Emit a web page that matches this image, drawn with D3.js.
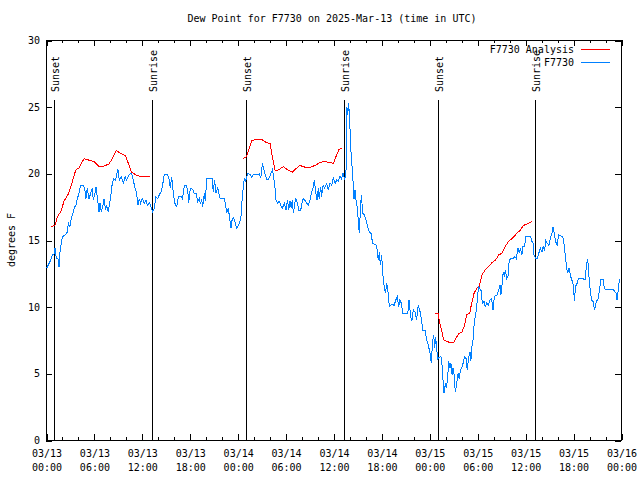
<!DOCTYPE html>
<html><head><meta charset="utf-8">
<script src="https://cdn.jsdelivr.net/npm/d3@7"></script>
<style>body{margin:0;background:#fff}svg text{font-family:"DejaVu Sans Mono",monospace;font-size:10px;fill:#000}</style>
</head><body><svg id="c" width="640" height="480"></svg>
<script>
const chartTitle = "Dew Point for F7730 on 2025-Mar-13 (time in UTC)";
const yAxisLabel = "degrees F";
const startUTC = Date.UTC(2025, 2, 13, 0, 0);
const xTickHours = [0, 6, 12, 18, 24, 30, 36, 42, 48, 54, 60, 66, 72];
const yTickValues = [0, 5, 10, 15, 20, 25, 30];
const seriesNames = ["F7730 Analysis", "F7730"];
const seriesColors = ["#ff0000", "#0080ff"];
const sunLabels = ["Sunset", "Sunrise", "Sunset", "Sunrise", "Sunset", "Sunrise"];
const sunHours = [1.0, 13.27, 25.04, 37.35, 49.1, 61.2];

// Analysis (red) - null separates segments
const analysisHours = [0.67,1.13,1.42,1.84,2.25,2.75,3.17,3.72,4.13,4.76,5.59,6.01,6.64,7.26,7.89,8.3,8.8,9.35,9.97,10.4,10.7,11.2,11.6,13.0,
 13.5,
 24.7,25.1,25.75,26.4,27.0,27.6,28.05,28.3,28.7,29.1,29.7,30.3,30.85,31.4,31.8,32.2,32.85,33.7,34.3,34.9,35.5,36.0,36.4,36.7,37.0,
 37.5,
 48.75,49.1,49.25,49.6,49.8,50.2,50.6,51.05,51.3,51.7,52.1,52.4,52.7,53.05,53.3,53.6,53.97,54.25,54.6,55.0,55.4,55.85,56.3,56.7,57.1,57.5,57.9,58.35,58.8,59.4,59.8,60.45,60.85];
const analysisValues = [16.0,16.1,16.75,17.1,17.9,18.4,19.1,20.25,20.4,21.1,20.95,20.9,20.5,20.55,20.7,21.1,21.7,21.5,21.3,20.6,20.1,19.9,19.8,19.8,
 null,
 21.1,21.25,22.45,22.55,22.55,22.3,22.25,21.4,20.2,20.25,20.5,20.25,20.1,20.4,20.6,20.5,20.4,20.6,20.8,20.9,20.8,20.75,21.4,21.8,21.9,
 null,
 9.5,9.5,8.9,8.1,7.5,7.4,7.3,7.3,7.6,8.0,8.1,8.6,9.4,9.5,10.25,11.0,11.4,11.5,12.4,12.75,13.0,13.3,13.5,13.9,14.0,14.5,14.9,15.1,15.4,15.75,16.1,16.25,16.4];

// Observations (blue)
const dewHours = [0.1,0.6,0.8,1.0,1.13,1.3,1.5,1.63,1.75,1.92,2.05,2.46,2.67,2.8,3.0,3.17,3.42,3.59,3.76,3.92,4.13,4.34,4.67,4.84,5.0,5.17,5.38,5.6,5.8,5.92,6.1,6.26,6.42,6.64,6.76,6.93,7.1,7.26,7.47,7.6,7.8,8.1,8.3,8.5,8.72,9.0,9.18,9.43,9.68,9.9,10.1,10.4,10.7,10.93,11.1,11.35,11.5,11.7,11.85,12.06,12.3,12.52,12.7,12.94,13.15,13.36,13.56,13.77,13.98,14.2,14.4,14.6,14.8,15.24,15.44,15.57,15.74,15.94,16.15,16.36,16.57,16.9,17.1,17.32,17.53,17.74,17.87,18.07,18.37,18.57,18.78,19.0,19.2,19.32,19.5,19.62,19.82,19.95,20.12,20.45,20.8,20.95,21.1,21.3,21.5,21.8,22.33,22.45,22.63,22.83,23.04,23.17,23.3,23.5,23.7,23.88,24.1,24.4,24.6,24.83,25.0,25.1,25.3,25.55,25.75,25.96,26.4,26.7,26.9,27.1,27.3,27.5,27.7,27.9,28.1,28.35,28.5,28.7,28.8,29.0,29.2,29.4,29.6,29.85,30.05,30.25,30.4,30.55,30.7,30.85,30.97,31.15,31.3,31.5,31.65,31.9,32.05,32.2,32.4,32.65,32.85,33.05,33.27,33.47,33.6,33.77,33.93,34.1,34.2,34.4,34.5,34.7,34.9,35.15,35.35,35.56,35.77,35.98,36.2,36.4,36.6,36.8,37.0,37.2,37.4,37.57,37.68,37.78,37.9,38.02,38.15,38.35,38.5,38.57,38.7,38.8,38.98,39.1,39.23,39.4,39.5,39.65,39.86,40.07,40.28,40.5,40.7,40.9,41.4,41.6,41.75,41.86,42.03,42.16,42.3,42.5,42.66,42.8,43.0,43.3,43.6,43.8,43.99,44.16,44.3,44.5,44.67,45.3,45.45,45.67,45.8,46.0,46.2,46.4,46.6,46.8,47.0,47.17,47.46,47.67,47.87,48.1,48.25,48.4,48.55,48.67,48.8,48.9,49.05,49.2,49.46,49.6,49.7,49.84,50.0,50.1,50.3,50.4,50.6,50.7,50.85,50.97,51.1,51.25,51.4,51.6,51.75,51.9,52.1,52.3,52.4,52.6,52.75,52.9,53.1,53.2,53.3,53.5,53.6,53.7,53.9,54.05,54.2,54.4,54.5,54.6,54.7,54.85,55.0,55.2,55.4,55.6,55.8,55.97,56.15,56.5,56.7,56.85,56.97,57.1,57.25,57.4,57.5,57.7,57.9,58.0,58.2,58.5,58.7,58.9,59.1,59.3,59.4,59.6,59.7,59.9,60.1,60.45,60.7,60.85,61.0,61.1,61.3,61.5,61.7,61.9,62.1,62.25,62.45,62.56,62.77,62.98,63.2,63.4,63.5,63.65,63.8,64.0,64.2,64.5,64.7,64.86,65.0,65.2,65.3,65.5,65.7,65.85,66.05,66.16,66.3,66.5,66.66,67.1,67.5,67.7,67.83,67.96,68.1,68.3,68.5,68.7,68.9,69.1,69.3,69.5,69.8,69.9,70.1,70.5,71.0,71.4,71.5,71.65,71.8];
const dewValues = [12.9,13.5,13.9,13.9,14.4,13.6,13.6,13.0,14.1,14.75,15.25,15.4,15.6,16.25,16.0,16.6,17.1,17.5,17.6,18.1,18.5,19.1,19.1,18.9,18.1,18.9,18.1,18.5,18.9,18.0,18.4,19.0,18.25,17.1,17.75,17.1,17.5,18.1,17.25,17.6,17.1,18.25,19.25,19.6,19.5,20.3,19.5,19.75,19.25,19.75,19.5,19.9,20.0,19.5,19.0,18.5,17.6,18.1,17.75,18.1,17.75,18.0,17.6,17.8,17.5,17.1,17.4,18.25,18.1,18.4,18.6,19.1,19.9,19.9,19.5,18.9,19.75,18.5,17.75,17.5,18.25,18.3,18.1,19.1,19.1,18.75,17.75,18.9,18.8,18.5,18.5,17.9,18.1,17.75,18.0,17.5,18.5,17.9,19.6,19.6,19.6,18.6,19.5,18.5,18.9,18.1,18.1,17.75,17.0,17.4,16.4,15.9,16.5,16.7,16.25,15.9,16.1,16.6,18.4,19.6,19.4,19.7,20.0,19.9,19.7,19.9,19.9,19.95,19.7,20.75,20.25,19.8,19.5,19.6,19.9,20.25,19.75,18.75,18.0,17.75,17.9,17.6,17.4,17.75,17.25,18.0,17.25,17.9,17.4,18.0,17.0,17.75,18.1,17.75,17.25,17.25,17.75,18.1,18.0,17.75,17.6,18.0,18.6,19.0,19.5,18.6,18.0,18.9,18.1,19.0,18.25,19.1,18.9,19.25,18.75,19.3,19.1,19.7,19.25,19.5,19.4,19.8,19.6,20.05,19.5,20.25,25.0,24.4,25.25,24.1,22.0,20.25,18.9,18.1,18.75,18.1,17.4,16.5,15.5,17.6,18.4,17.0,16.9,16.5,16.0,15.6,15.5,14.75,14.6,13.5,14.1,13.1,13.9,12.5,11.75,11.0,11.75,11.25,10.0,10.2,10.1,10.5,10.75,10.0,10.5,10.25,9.5,9.5,10.5,9.25,8.9,9.75,9.6,9.0,10.1,9.75,9.1,8.25,8.25,7.5,7.1,6.5,5.75,7.4,7.9,6.9,7.75,6.9,6.1,6.2,6.25,5.6,4.6,3.5,4.25,3.9,4.6,5.9,5.4,5.75,4.9,5.4,4.9,3.6,4.1,5.0,4.6,5.25,5.5,5.9,6.25,6.1,5.25,6.1,6.6,5.9,6.9,7.6,8.6,9.1,9.75,10.9,11.5,11.25,11.25,10.5,10.25,10.4,10.0,10.3,10.1,10.5,10.6,9.75,10.75,10.9,11.25,11.6,10.9,11.6,12.6,12.25,12.75,12.1,12.4,13.5,13.6,13.6,13.75,13.6,14.4,14.0,14.4,13.9,14.5,14.5,15.25,15.25,15.25,14.9,14.75,13.9,13.6,13.6,14.0,14.4,14.1,14.5,14.25,15.0,14.75,14.6,15.25,15.6,16.0,15.5,14.9,14.6,15.4,15.3,15.3,14.75,14.0,12.9,12.5,12.9,12.25,12.0,11.6,10.4,11.5,11.75,12.1,12.1,12.05,13.25,13.6,12.5,11.5,10.5,10.4,9.75,10.4,10.5,11.25,12.05,12.05,11.4,11.25,11.3,11.3,11.0,10.5,11.25,12.05];

const H = 3600 * 1000;
const toDate = h => new Date(startUTC + h * H);
const L = 46, R = 621, T = 40, B = 440;

const svg = d3.select("#c");
const x = d3.scaleUtc().domain([toDate(0), toDate(72)]).range([L, R]);
const y = d3.scaleLinear().domain([0, 30]).range([B, T]);

// Title and y label
svg.append("text").attr("x", 332).attr("y", 19).attr("text-anchor", "middle")
  .attr("dominant-baseline", "middle").text(chartTitle);
svg.append("text").attr("transform", "translate(12,240) rotate(-90)")
  .attr("text-anchor", "middle").attr("dominant-baseline", "middle").text(yAxisLabel);

const minorHours = d3.range(0, 73, 2).filter(h => h % 6 !== 0);
const fmtD = d3.utcFormat("%m/%d"), fmtT = d3.utcFormat("%H:%M");

function styleAxis(g) {
  g.select(".domain").remove();
  g.selectAll("line").attr("stroke", "#000").attr("shape-rendering", "crispEdges");
  g.selectAll("text").attr("font-family", null).attr("font-size", null);
}
// bottom major with labels
const gb = svg.append("g").attr("transform", `translate(0.5,${B})`)
  .call(d3.axisBottom(x).tickValues(xTickHours.map(toDate)).tickSize(-6).tickFormat(""));
styleAxis(gb);
gb.selectAll(".tick").each(function(d) {
  const t = d3.select(this);
  t.append("text").attr("y", 14).attr("text-anchor", "middle").attr("dominant-baseline", "middle").text(fmtD(d));
  t.append("text").attr("y", 28).attr("text-anchor", "middle").attr("dominant-baseline", "middle").text(fmtT(d));
});
styleAxis(svg.append("g").attr("transform", `translate(0.5,${B})`)
  .call(d3.axisBottom(x).tickValues(minorHours.map(toDate)).tickSize(-3).tickFormat("")));
styleAxis(svg.append("g").attr("transform", `translate(0.5,${T})`)
  .call(d3.axisTop(x).tickValues(xTickHours.map(toDate)).tickSize(-6).tickFormat("")));
styleAxis(svg.append("g").attr("transform", `translate(0.5,${T})`)
  .call(d3.axisTop(x).tickValues(minorHours.map(toDate)).tickSize(-3).tickFormat("")));
const gl = svg.append("g").attr("transform", `translate(${L},0.5)`)
  .call(d3.axisLeft(y).tickValues(yTickValues).tickSize(-6).tickPadding(6).tickFormat(d3.format("d")));
styleAxis(gl);
gl.selectAll("text").attr("x", -6).attr("dy", null).attr("dominant-baseline", "middle");
styleAxis(svg.append("g").attr("transform", `translate(${R},0.5)`)
  .call(d3.axisRight(y).tickValues(yTickValues).tickSize(-6).tickFormat("")));

// border
svg.append("rect").attr("x", L + 0.5).attr("y", T + 0.5).attr("width", R - L).attr("height", B - T)
  .attr("fill", "none").attr("stroke", "#000").attr("shape-rendering", "crispEdges");

// sun lines
sunHours.forEach((h, i) => {
  const sx = Math.round(x(toDate(h))) + 0.5;
  svg.append("line").attr("x1", sx).attr("x2", sx).attr("y1", 100).attr("y2", B)
    .attr("stroke", "#000").attr("shape-rendering", "crispEdges");
  svg.append("text").attr("transform", `translate(${sx + 1},92) rotate(-90)`)
    .attr("text-anchor", "start").attr("dominant-baseline", "middle").text(sunLabels[i]);
});

const line = d3.line().defined(d => d[1] != null).x(d => x(toDate(d[0]))).y(d => y(d[1]));
const analysis = analysisHours.map((h, i) => [h, analysisValues[i]]);
const dew = dewHours.map((h, i) => [h, dewValues[i]]);
svg.append("path").datum(analysis).attr("d", line).attr("fill", "none")
  .attr("stroke", seriesColors[0]).attr("stroke-width", 1).attr("shape-rendering", "crispEdges");
svg.append("path").datum(dew).attr("d", line).attr("fill", "none")
  .attr("stroke", seriesColors[1]).attr("stroke-width", 1).attr("shape-rendering", "crispEdges");

// legend
seriesNames.forEach((n, i) => {
  const ly = 50 + i * 13;
  svg.append("text").attr("x", 574).attr("y", ly).attr("text-anchor", "end")
    .attr("dominant-baseline", "middle").text(n);
  svg.append("line").attr("x1", 581).attr("x2", 610).attr("y1", ly - 0.5).attr("y2", ly - 0.5)
    .attr("stroke", seriesColors[i]).attr("stroke-width", 1).attr("shape-rendering", "crispEdges");
});
</script></body></html>
